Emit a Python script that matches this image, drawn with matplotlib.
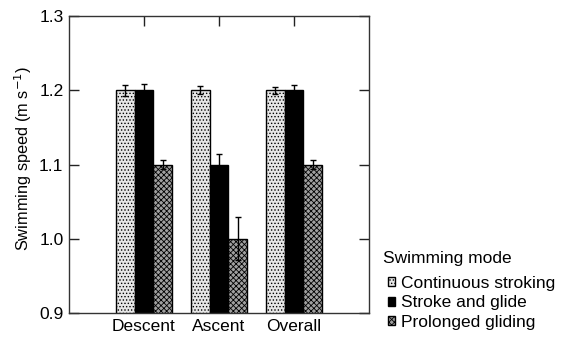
import numpy as np
from matplotlib import pyplot as plt

plt.rcParams['font.family'] = ['Liberation Sans', 'DejaVu Sans']
plt.rcParams['hatch.linewidth'] = 0.6

phases = ["Descent", "Ascent", "Overall"]
modes = ["Continuous stroking", "Stroke and glide", "Prolonged gliding"]

speed_cs = [1.20, 1.20, 1.20]
speed_sg = [1.20, 1.10, 1.20]
speed_pg = [1.10, 1.00, 1.10]

err_cs = [0.0075, 0.0055, 0.0045]
err_sg = [0.0078, 0.014, 0.0065]
err_pg = [0.006, 0.029, 0.006]

speeds = [speed_cs, speed_sg, speed_pg]
errors = [err_cs, err_sg, err_pg]
faces = ['#e6e6e6', 'black', '#a0a0a0']
hatches = ['.....', None, 'xxxxxx']

fig = plt.figure(figsize=(5.64, 3.4), dpi=100)
ax = fig.add_axes([0.1223, 0.0794, 0.5319, 0.8735])

x = np.arange(len(phases))
w = 0.25
for i in range(len(modes)):
    ax.bar(x + (i - 1) * w, speeds[i], w, bottom=0, color=faces[i],
           hatch=hatches[i], edgecolor='black', linewidth=1.0,
           label=modes[i], zorder=2)
    ax.errorbar(x + (i - 1) * w, speeds[i], yerr=errors[i], fmt='none',
                ecolor='black', elinewidth=1.0, capsize=2.5, capthick=1.0,
                zorder=3)

ax.set_xlim(-1, 3)
ax.set_ylim(0.9, 1.3)
ax.set_xticks(x)
ax.set_xticklabels(phases)
ax.set_yticks([0.9, 1.0, 1.1, 1.2, 1.3])
ax.set_yticklabels(["0.9", "1.0", "1.1", "1.2", "1.3"])
ax.tick_params(direction='in', length=7, width=1.0, top=True, right=True,
               labelsize=12.5, color='#222222', pad=4)
for s in ax.spines.values():
    s.set_linewidth(1.0)
    s.set_color('#333333')
ax.set_ylabel("Swimming speed (m s$^{-1}$)", fontsize=11.8)
ax.yaxis.set_label_coords(-0.115, 0.52)

leg = fig.legend(loc='lower left', bbox_to_anchor=(0.672, 0.004),
                 title="Swimming mode", frameon=False, fontsize=12.5,
                 title_fontsize=12.5, handlelength=0.42, handleheight=0.42,
                 handletextpad=0.32, labelspacing=0.27, borderpad=0,
                 alignment='left')
leg.get_title().set_position((-5, 0))
leg._legend_box.sep = 7

fig.savefig("out.png", dpi=100)
